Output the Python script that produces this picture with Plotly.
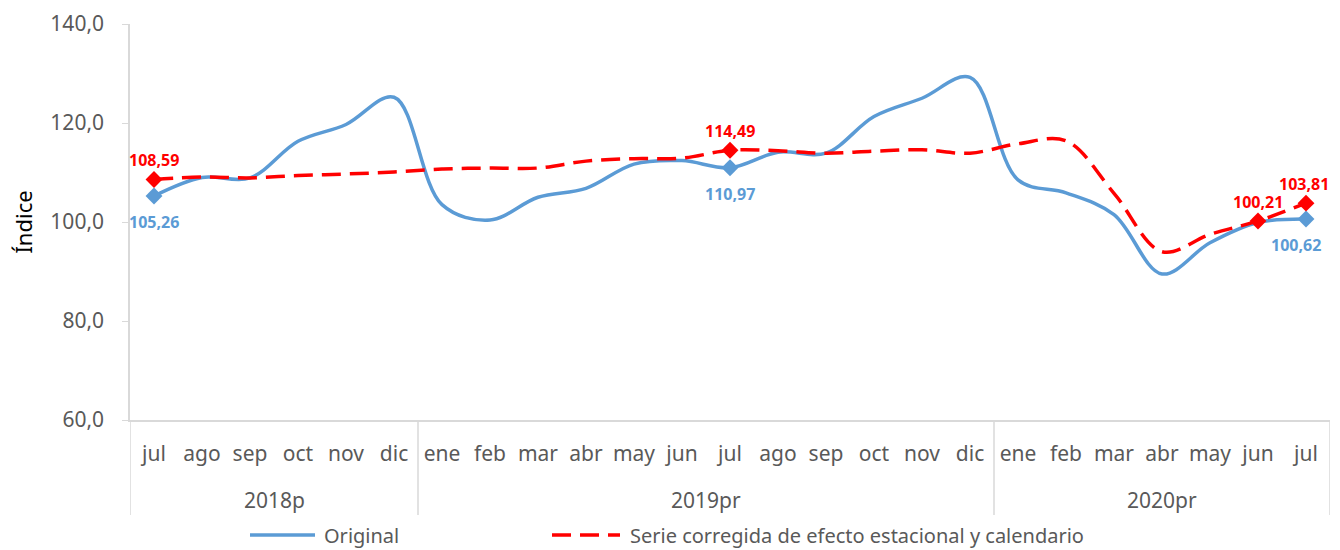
import plotly.graph_objects as go

years = ["2018p"] * 6 + ["2019pr"] * 12 + ["2020pr"] * 7
months = ["jul", "ago", "sep", "oct", "nov", "dic",
          "ene", "feb", "mar", "abr", "may", "jun", "jul", "ago", "sep", "oct", "nov", "dic",
          "ene", "feb", "mar", "abr", "may", "jun", "jul"]
original = [105.26, 109.0, 108.9, 116.3, 119.7, 125.2,
            103.5, 100.4, 105.0, 106.8, 111.7, 112.4, 110.97, 114.1, 113.9, 121.3, 125.0, 129.2,
            108.5, 105.9, 101.5, 89.5, 95.8, 99.9, 100.62]
corregida = [108.59, 109.1, 108.9, 109.4, 109.7, 110.1,
             110.7, 110.9, 110.9, 112.3, 112.8, 112.9, 114.49, 114.4, 113.9, 114.3, 114.6, 113.9,
             115.8, 116.4, 105.8, 94.0, 97.5, 100.21, 103.81]
labeled_orig = [0, 12, 24]
labeled_corr = [0, 12, 23, 24]
series_names = ["Original", "Serie corregida de efecto estacional y calendario"]

BLUE = "#5B9BD5"
RED = "#FF0000"
GRAY = "#D9D9D9"
TXT = "#595959"
FONT = "Noto Sans, sans-serif"
DASH = "19px,9px"

# the page body has an 8px default margin: size the figure to fit the window
W, H = 1332, 542
ML, MT, MB, MR = 122, 16, 130, 10
PW, PH = W - ML - MR, H - MT - MB
PLOT_TOP_WIN = MT + 8
PLOT_BOT_WIN = H - MB + 8

def fmt(v):
    return f"{v:.2f}".replace(".", ",")

xs = list(range(len(months)))
last = len(xs) - 1

fig = go.Figure()
fig.add_trace(go.Scatter(
    x=xs, y=original, name=series_names[0], mode="lines", showlegend=False,
    line=dict(color=BLUE, width=3.5, shape="spline", smoothing=1.0),
))
fig.add_trace(go.Scatter(
    x=xs, y=corregida, name=series_names[1], mode="lines", showlegend=False,
    line=dict(color=RED, width=3.5, dash=DASH, shape="spline", smoothing=1.0),
))
fig.add_trace(go.Scatter(
    x=[xs[i] for i in labeled_orig], y=[original[i] for i in labeled_orig], mode="markers",
    marker=dict(symbol="diamond", size=13, color=BLUE), showlegend=False,
))
fig.add_trace(go.Scatter(
    x=[xs[i] for i in labeled_corr], y=[corregida[i] for i in labeled_corr], mode="markers",
    marker=dict(symbol="diamond", size=13, color=RED), showlegend=False,
))

annotations = []
for i in labeled_orig:
    annotations.append(dict(x=xs[i], y=original[i], text=f"<b>{fmt(original[i])}</b>",
                            showarrow=False, yshift=-26, xshift=-10 if i == last else 0,
                            font=dict(color=BLUE, size=16, family="Open Sans")))
for i in labeled_corr:
    annotations.append(dict(x=xs[i], y=corregida[i], text=f"<b>{fmt(corregida[i])}</b>",
                            showarrow=False, yshift=19, xshift=-2 if i == last else 0,
                            font=dict(color=RED, size=16, family="Open Sans")))

# year group labels and dividers
groups = []
for i, yname in enumerate(years):
    if not groups or groups[-1][0] != yname:
        groups.append([yname, i, i])
    else:
        groups[-1][2] = i
shapes = []
for yname, a, b in groups:
    annotations.append(dict(x=(a + b) / 2, y=-80 / PH, xref="x", yref="paper", text=yname,
                            showarrow=False, yanchor="middle",
                            font=dict(size=21, color=TXT, family=FONT)))
    shapes.append(dict(type="line", xref="x", yref="paper", x0=a - 0.5, x1=a - 0.5,
                       y0=0, y1=-95 / PH, line=dict(color=GRAY, width=1.5)))
shapes.append(dict(type="line", xref="x", yref="paper", x0=len(xs) - 0.5, x1=len(xs) - 0.5,
                   y0=0, y1=-95 / PH, line=dict(color=GRAY, width=1.5)))

# legend drawn below the axis (line sample + label)
LEG_Y = (PLOT_BOT_WIN - 535) / PH
legend_items = [(250, 315, 322, BLUE, "solid"), (552, 620, 628, RED, DASH)]
for name, (x0, x1, xt, col, dash) in zip(series_names, legend_items):
    shapes.append(dict(type="line", xref="paper", yref="paper",
                       x0=(x0 - 130) / PW, x1=(x1 - 130) / PW, y0=LEG_Y, y1=LEG_Y,
                       line=dict(color=col, width=3.5, dash=dash)))
    annotations.append(dict(x=(xt - 130) / PW, y=LEG_Y, xref="paper", yref="paper",
                            text=name, showarrow=False, xanchor="left", yanchor="middle",
                            font=dict(size=20, color=TXT, family=FONT)))

fig.update_layout(
    width=W, height=H,
    margin=dict(l=ML, r=MR, t=MT, b=MB, autoexpand=False),
    plot_bgcolor="white", paper_bgcolor="white",
    separators=",.",
    font=dict(family=FONT, size=19, color=TXT),
    showlegend=False,
    yaxis=dict(range=[60, 140], dtick=20, tickformat=".1f", showgrid=False,
               showline=True, linecolor=GRAY, linewidth=1.5, automargin=False,
               ticks="outside", ticklen=6, tickcolor=GRAY, ticklabelstandoff=14,
               ticklabeloverflow="allow",
               tickfont=dict(size=21, color=TXT),
               title=dict(text="Índice", font=dict(size=22, color="#000000"), standoff=16),
               zeroline=False),
    xaxis=dict(range=[-0.5, len(xs) - 0.5], tickvals=xs, ticktext=months, tickangle=0,
               showgrid=False, showline=True, linecolor=GRAY, linewidth=1.5, automargin=False,
               ticks="", ticklabelstandoff=14, tickfont=dict(size=21, color=TXT),
               zeroline=False),
    annotations=annotations,
    shapes=shapes,
)
fig.write_html("out.html")
